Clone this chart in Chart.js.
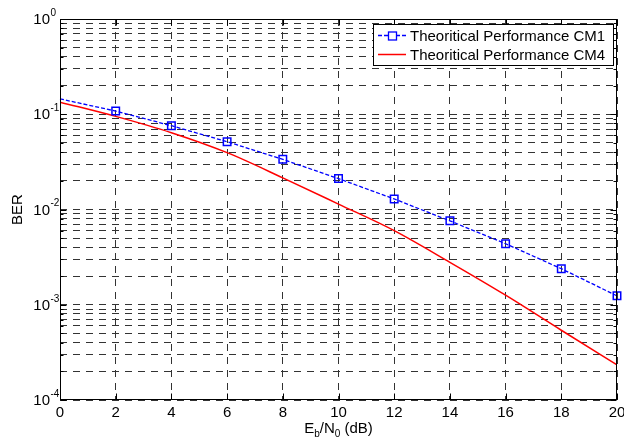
<!DOCTYPE html>
<html>
<head>
<meta charset="utf-8">
<script src="https://cdn.jsdelivr.net/npm/chart.js@4.4.1/dist/chart.umd.min.js"></script>
<style>
  html, body { margin: 0; padding: 0; background: #fff; }
  canvas { display: block; }
</style>
</head>
<body>
<canvas id="ber" width="624" height="439"></canvas>
<script>
// Eb/N0 sweep (dB) and BER for the two channel models
const ebn0 = [0, 2, 4, 6, 8, 10, 12, 14, 16, 18, 20];
const berCM1 = [0.145, 0.108, 0.0758, 0.0515, 0.0336, 0.0211, 0.0129, 0.0076, 0.00437, 0.00239, 0.00124];
const berCM4 = [0.134, 0.095, 0.064, 0.0395, 0.0215, 0.0114, 0.0060, 0.00279, 0.00126, 0.00054, 0.000234];

// decade exponents for the log axis labels
const yDecades = [-4, -3, -2, -1, 0];
const seriesNames = ['Theoritical Performance CM1', 'Theoritical Performance CM4'];

const FONT = '"Liberation Sans", Arial, sans-serif';
const GRID = '#333';

const toPoints = ys => ebn0.map((x, i) => ({ x: x, y: ys[i] }));

// axes box, inward ticks, superscript labels, axis titles and legend
const decorations = {
  id: 'decorations',
  afterDraw(chart) {
    const { ctx, chartArea: a, scales: { x, y } } = chart;
    const L = a.left + 0.5, R = Math.round(a.right) - 0.5;
    const T = a.top + 0.5, B = Math.round(a.bottom) - 0.5;
    ctx.save();
    ctx.strokeStyle = '#000';
    ctx.lineWidth = 1;
    ctx.strokeRect(L, T, R - L, B - T);

    ctx.beginPath();
    x.ticks.forEach(t => {
      const px = Math.round(x.getPixelForValue(t.value)) + 0.5;
      ctx.moveTo(px, B); ctx.lineTo(px, B - 6);
      ctx.moveTo(px, T); ctx.lineTo(px, T + 6);
    });
    y.ticks.forEach(t => {
      const py = Math.round(y.getPixelForValue(t.value)) + 0.5;
      const major = Math.abs(Math.log10(t.value) - Math.round(Math.log10(t.value))) < 1e-9;
      const len = major ? 6 : 3;
      ctx.moveTo(L, py); ctx.lineTo(L + len, py);
      ctx.moveTo(R, py); ctx.lineTo(R - len, py);
    });
    ctx.stroke();

    // 10^n labels
    ctx.fillStyle = '#000';
    ctx.textBaseline = 'middle';
    yDecades.forEach(e => {
      const py = y.getPixelForValue(Math.pow(10, e));
      ctx.font = '15px ' + FONT;
      ctx.textAlign = 'right';
      ctx.fillText('10', 50, py + 1);
      ctx.font = '10px ' + FONT;
      ctx.textAlign = 'left';
      ctx.fillText(String(e), 50.5, py - 6);
    });

    // y title
    ctx.save();
    ctx.translate(18, (a.top + a.bottom) / 2);
    ctx.rotate(-Math.PI / 2);
    ctx.font = '15px ' + FONT;
    ctx.textAlign = 'center';
    ctx.textBaseline = 'middle';
    ctx.fillText('BER', 0, 0);
    ctx.restore();

    // x title with subscripts
    const parts = [
      ['E', 15, 0], ['b', 10, 4], ['/N', 15, 0], ['0', 10, 4], [' (dB)', 15, 0]
    ];
    ctx.textAlign = 'left';
    ctx.textBaseline = 'alphabetic';
    let total = 0;
    parts.forEach(p => { ctx.font = p[1] + 'px ' + FONT; total += ctx.measureText(p[0]).width; });
    let cx = (a.left + a.right) / 2 - total / 2;
    parts.forEach(p => {
      ctx.font = p[1] + 'px ' + FONT;
      ctx.fillText(p[0], cx, 433 + p[2]);
      cx += ctx.measureText(p[0]).width;
    });

    // legend
    const lx = 373.5, ly = 24.5, lw = 240, lh = 41;
    ctx.fillStyle = '#fff';
    ctx.fillRect(lx, ly, lw, lh);
    ctx.strokeStyle = '#000';
    ctx.strokeRect(lx, ly, lw, lh);
    const rows = [35, 54];
    chart.data.datasets.forEach((ds, i) => {
      const ry = rows[i] + 0.5;
      ctx.strokeStyle = ds.borderColor;
      ctx.lineWidth = ds.borderWidth;
      ctx.setLineDash(ds.borderDash || []);
      ctx.beginPath();
      ctx.moveTo(378, ry); ctx.lineTo(406, ry);
      ctx.stroke();
      ctx.setLineDash([]);
      if (ds.legendMarker) {
        ctx.fillStyle = '#fff';
        ctx.fillRect(388.5, ry - 3.5, 8, 8);
        ctx.strokeRect(388.5, ry - 3.5, 8, 8);
      }
      ctx.fillStyle = '#000';
      ctx.font = '15px ' + FONT;
      ctx.textBaseline = 'middle';
      ctx.fillText(ds.label, 410, ry + 1);
    });
    ctx.restore();
  }
};

new Chart(document.getElementById('ber'), {
  type: 'line',
  data: {
    datasets: [
      {
        label: seriesNames[0],
        data: toPoints(berCM1),
        borderColor: '#0000ff',
        backgroundColor: 'rgba(0,0,0,0)',
        borderWidth: 1.3,
        borderDash: [4, 2],
        pointStyle: 'rect',
        pointRadius: c => (c.dataIndex === 0 ? 0 : 5.3),
        pointBorderWidth: 1.5,
        pointBackgroundColor: 'rgba(0,0,0,0)',
        pointBorderColor: '#0000ff',
        clip: false,
        legendMarker: true
      },
      {
        label: seriesNames[1],
        data: toPoints(berCM4),
        borderColor: '#ff0000',
        backgroundColor: 'rgba(0,0,0,0)',
        borderWidth: 1.5,
        pointRadius: 0,
        cubicInterpolationMode: 'monotone'
      }
    ]
  },
  options: {
    responsive: false,
    animation: false,
    devicePixelRatio: 1,
    layout: { autoPadding: false, padding: { top: 19, right: 7, left: 0, bottom: 0 } },
    plugins: { legend: { display: false }, tooltip: { enabled: false } },
    scales: {
      x: {
        type: 'linear',
        min: 0,
        max: 20,
        ticks: {
          stepSize: 2,
          color: '#000',
          font: { family: FONT, size: 15 },
          padding: 4,
          maxRotation: 0
        },
        grid: { color: GRID, lineWidth: 1, drawTicks: false },
        border: { display: false, dash: [7, 6] },
        afterFit(s) {
          s.height = 39;
          // let the "20" label run past the plot edge instead of shrinking it
          s.paddingLeft = 0;
          s.paddingRight = 0;
        }
      },
      y: {
        type: 'logarithmic',
        min: 1e-4,
        max: 1,
        ticks: { display: false },
        grid: { color: GRID, lineWidth: 1, drawTicks: false },
        border: { display: false, dash: [7, 6] },
        afterBuildTicks(s) {
          const ticks = [];
          yDecades.forEach(e => {
            for (let m = 1; m <= 9; m++) {
              const v = m * Math.pow(10, e);
              if (v <= 1 + 1e-12) ticks.push({ value: v, major: m === 1 });
            }
          });
          s.ticks = ticks;
        },
        afterFit(s) { s.width = 60; }
      }
    }
  },
  plugins: [decorations]
});
</script>
</body>
</html>
